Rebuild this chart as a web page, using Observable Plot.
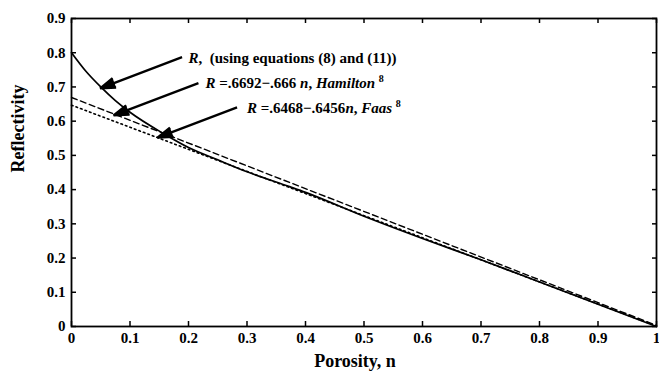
<!DOCTYPE html>
<html><head><meta charset="utf-8">
<script src="https://cdn.jsdelivr.net/npm/d3@7"></script>
<script src="https://cdn.jsdelivr.net/npm/@observablehq/plot@0.6"></script>
<style>
html,body{margin:0;padding:0;background:#fff;}
#chart svg{display:block;overflow:visible;}
</style></head><body><div id="chart"></div>
<script>
// Solid curve: R using equations (8) and (11)
const porosity = [0, 0.025, 0.05, 0.075, 0.1, 0.157, 0.2, 0.25, 0.3, 0.374, 0.4, 0.5, 0.6, 0.7, 0.8, 0.9, 1.0];
const reflectivity = [0.80, 0.745, 0.70, 0.66, 0.626, 0.564, 0.523, 0.487, 0.452, 0.408, 0.392, 0.322, 0.257, 0.195, 0.13, 0.065, 0.0];
// Hamilton: R = .6692 - .666 n (endpoints)
const hamiltonN = [0, 1];
const hamiltonR = [0.6692, 0.0032];
// Faas: R = .6468 - .6456 n (endpoints)
const faasN = [0, 1];
const faasR = [0.6468, 0.0012];

const xTicks = [0, 0.1, 0.2, 0.3, 0.4, 0.5, 0.6, 0.7, 0.8, 0.9, 1];
const yTicks = [0, 0.1, 0.2, 0.3, 0.4, 0.5, 0.6, 0.7, 0.8, 0.9];

// Annotations (text start, arrow tail -> arrow tip) in data units
const labelParts = [
  [["R", "bi"], [",  (using equations (8) and (11))", "b"]],
  [["R", "bi"], [" =.6692\u2212.666 ", "b"], ["n", "bi"], [", ", "b"], ["Hamilton", "bi"], [" ", "b"], ["8", "sup"]],
  [["R", "bi"], [" =.6468\u2212.6456", "b"], ["n", "bi"], [", ", "b"], ["Faas", "bi"], [" ", "b"], ["8", "sup"]]
];
const labelN = [0.200, 0.229, 0.300];
const labelR = [0.784, 0.711, 0.637];
const arrowN1 = [0.189, 0.217, 0.283];
const arrowR1 = [0.787, 0.711, 0.640];
const arrowN2 = [0.049, 0.072, 0.147];
const arrowR2 = [0.696, 0.617, 0.552];

const labelText = labelParts.map(p => p.map(s => s[0]).join(""));

const curve = porosity.map((n, i) => ({n, r: reflectivity[i]}));
const ham = hamiltonN.map((n, i) => ({n, r: hamiltonR[i]}));
const faas = faasN.map((n, i) => ({n, r: faasR[i]}));
const ann = labelText.map((t, i) => ({t, x: labelN[i], y: labelR[i], x1: arrowN1[i], y1: arrowR1[i], x2: arrowN2[i], y2: arrowR2[i]}));

const serif = "Liberation Serif";

const chart = Plot.plot({
  width: 659,
  height: 375,
  marginLeft: 71,
  marginTop: 18,
  marginRight: 3,
  marginBottom: 49,
  style: {background: "#fff", color: "#000"},
  x: {domain: [0, 1]},
  y: {domain: [0, 0.9]},
  marks: [
    // tick labels
    Plot.axisX(xTicks, {anchor: "bottom", tickSize: 0, tickPadding: 6, tickFormat: d => String(d), label: null, fontSize: 15, fontFamily: serif, fontWeight: "bold"}),
    Plot.axisY(yTicks, {anchor: "left", tickSize: 0, tickPadding: 6, tickFormat: d => String(d), label: null, fontSize: 15, fontFamily: serif, fontWeight: "bold"}),
    // inward ticks on all four sides
    Plot.axisX(xTicks, {anchor: "bottom", tickSize: -5, text: null, label: null, strokeWidth: 1.5}),
    Plot.axisX(xTicks, {anchor: "top", tickSize: -4, text: null, label: null, strokeWidth: 1.5}),
    Plot.axisY(yTicks, {anchor: "left", tickSize: -5, text: null, label: null, strokeWidth: 1.5}),
    Plot.axisY(yTicks, {anchor: "right", tickSize: -5, text: null, label: null, strokeWidth: 1.5}),
    Plot.frame({stroke: "#000", strokeWidth: 1.8}),
    // axis titles
    Plot.text(["Porosity, n"], {frameAnchor: "bottom", dy: 40, dx: -9, text: d => d, fontSize: 18, fontWeight: "bold", fontFamily: serif}),
    Plot.text(["Reflectivity"], {frameAnchor: "left", dx: -53, rotate: -90, text: d => d, fontSize: 18, fontWeight: "bold", fontFamily: serif}),
    // curves
    Plot.line(faas, {x: "n", y: "r", stroke: "#000", strokeWidth: 1.6, strokeDasharray: "1.6,3.2"}),
    Plot.line(ham, {x: "n", y: "r", stroke: "#000", strokeWidth: 1.4, strokeDasharray: "6,3.5"}),
    Plot.line(curve, {x: "n", y: "r", stroke: "#000", strokeWidth: 1.7, curve: "monotone-x"}),
    // annotation arrows
    Plot.arrow(ann, {x1: "x1", y1: "y1", x2: "x2", y2: "y2", stroke: "#000", fill: "#000", strokeWidth: 2.4, headLength: 10, headAngle: 36, strokeLinecap: "butt", strokeLinejoin: "miter"}),
    Plot.text(ann, {x: "x", y: "y", text: "t", textAnchor: "start", fontSize: 15, fontWeight: "bold", fontFamily: serif})
  ]
});

// Rich-format annotation labels (italic R, n, names; superscript reference)
chart.querySelectorAll("text").forEach(el => {
  const idx = labelText.indexOf(el.textContent);
  if (idx < 0) return;
  while (el.firstChild) el.removeChild(el.firstChild);
  const ns = "http://www.w3.org/2000/svg";
  labelParts[idx].forEach(([s, st]) => {
    const ts = document.createElementNS(ns, "tspan");
    ts.textContent = s;
    if (st === "bi") ts.setAttribute("font-style", "italic");
    if (st === "sup") { ts.setAttribute("font-size", "10"); ts.setAttribute("dy", "-6"); }
    el.appendChild(ts);
  });
});

document.getElementById("chart").appendChild(chart);
</script>
</body></html>
